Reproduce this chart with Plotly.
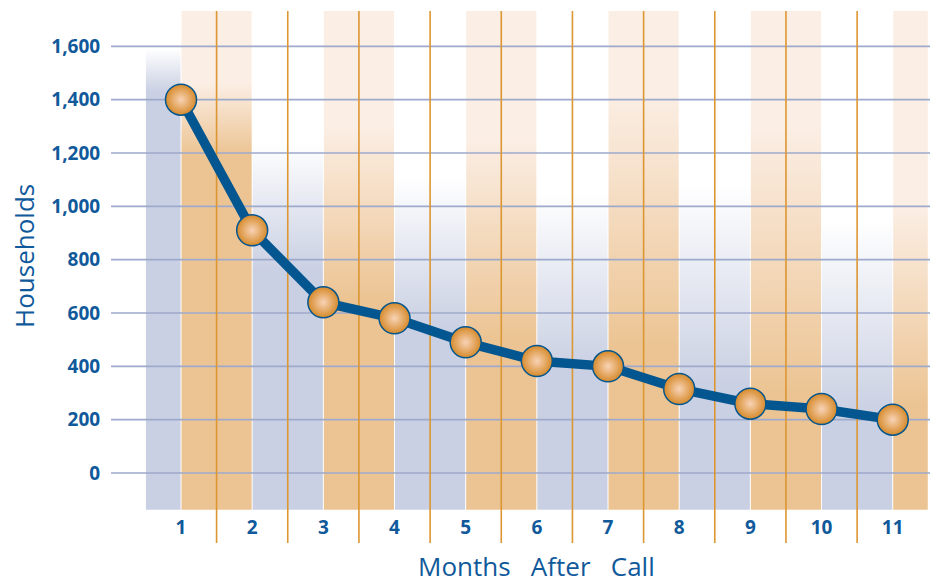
import plotly.graph_objects as go

# ---------------- data ----------------
months = [1, 2, 3, 4, 5, 6, 7, 8, 9, 10, 11]
households = [1400, 910, 640, 580, 490, 420, 400, 315, 260, 240, 200]
y_ticks = [0, 200, 400, 600, 800, 1000, 1200, 1400, 1600]
x_title = "Months\u00a0\u00a0\u00a0After\u00a0\u00a0\u00a0Call"
y_title = "Households"

# background bands (decoration): edges in month units, kind, solid level, fade level
band_edges = [0.5, 1, 2, 3, 4, 5, 6, 7, 8, 9, 10, 11, 11.5]
band_kind = ["blue", "orange"] * 6
band_solid = [1430, 1195, 760, 650, 540, 500, 390, 470, 330, 300, 220, 250]
band_fade = [1590, 1460, 1240, 1300, 1110, 1250, 1050, 1420, 1080, 1300, 950, 1000]

# ---------------- style ----------------
X_RANGE = [0.0165, 11.524]
Y_RANGE = [-262.5, 1732.5]
BAND_BOTTOM = -137.6
BAND_TOP = 1732.5
TEXT_BLUE = "#10599a"
LINE_BLUE = "#03568f"
GRID = "#9eaacb"
VLINE = "#dc9632"
COLORS = {
    "blue": ("rgb(202,208,227)", "rgb(255,255,255)"),
    "orange": ("rgb(236,196,147)", "rgb(251,238,228)"),
}
FONT = "Open Sans"

fig = go.Figure()


def frac(v):
    return min(max((v - BAND_BOTTOM) / (BAND_TOP - BAND_BOTTOM), 0.0), 1.0)


for i, kind in enumerate(band_kind):
    x0 = band_edges[i] + 0.007
    x1 = band_edges[i + 1] - 0.007
    solid, top = COLORS[kind]
    fs = frac(band_solid[i])
    ff = frac(band_fade[i])
    cs = [[0.0, solid], [fs, solid], [ff, top], [1.0, top]]
    fig.add_trace(go.Scatter(
        x=[x0, x1, x1, x0, x0],
        y=[BAND_BOTTOM, BAND_BOTTOM, BAND_TOP, BAND_TOP, BAND_BOTTOM],
        mode="lines", line=dict(width=0), fill="toself",
        fillgradient=dict(type="vertical", colorscale=cs,
                          start=BAND_BOTTOM, stop=BAND_TOP),
        hoverinfo="skip", showlegend=False,
    ))

# horizontal grid lines (above the bands)
gx, gy = [], []
for t in y_ticks:
    gx += [X_RANGE[0], X_RANGE[1], None]
    gy += [t, t, None]
fig.add_trace(go.Scatter(x=gx, y=gy, mode="lines",
                         line=dict(color=GRID, width=1.6),
                         hoverinfo="skip", showlegend=False))

# vertical separators between months
vx, vy = [], []
for m in months[:-1]:
    vx += [m + 0.5, m + 0.5, None]
    vy += [Y_RANGE[0], Y_RANGE[1], None]
fig.add_trace(go.Scatter(x=vx, y=vy, mode="lines",
                         line=dict(color=VLINE, width=1.6),
                         hoverinfo="skip", showlegend=False))

# data line
fig.add_trace(go.Scatter(
    x=months, y=households, mode="lines+markers",
    line=dict(color=LINE_BLUE, width=9.5),
    marker=dict(size=31, color="#d68a2a",
                gradient=dict(type="radial", color="#f8d3b6"),
                line=dict(color=LINE_BLUE, width=1.5)),
    showlegend=False,
))

# month labels
fig.add_trace(go.Scatter(
    x=months, y=[-210] * len(months), mode="text",
    text=[str(m) for m in months],
    textfont=dict(family=FONT, size=19, color=TEXT_BLUE, weight="bold"),
    hoverinfo="skip", showlegend=False,
))

fig.update_layout(
    width=935, height=584,
    margin=dict(l=111, r=5, t=11, b=41),
    paper_bgcolor="white", plot_bgcolor="white",
    xaxis=dict(range=X_RANGE, showgrid=False, zeroline=False,
               showticklabels=False, ticks="", fixedrange=True),
    yaxis=dict(range=Y_RANGE, showgrid=False, zeroline=False,
               tickvals=y_ticks, tickformat=",d", ticks="outside",
               ticklen=6, tickcolor="rgba(0,0,0,0)",
               tickfont=dict(family=FONT, size=19, color=TEXT_BLUE, weight="bold"),
               fixedrange=True),
    annotations=[
        dict(text=x_title, xref="paper", yref="paper",
             x=(536 - 111) / 819, y=-(566 - 543) / 532,
             xanchor="center", yanchor="middle", showarrow=False,
             font=dict(family=FONT, size=26, color=TEXT_BLUE)),
        dict(text=y_title, xref="paper", yref="paper",
             x=(24 - 111) / 819, y=(543 - 256) / 532, textangle=-90,
             xanchor="center", yanchor="middle", showarrow=False,
             font=dict(family=FONT, size=26, color=TEXT_BLUE)),
    ],
)

fig.write_html("out.html", config={"displayModeBar": False},
               post_script="document.body.style.margin='0';document.body.style.overflow='hidden';")
